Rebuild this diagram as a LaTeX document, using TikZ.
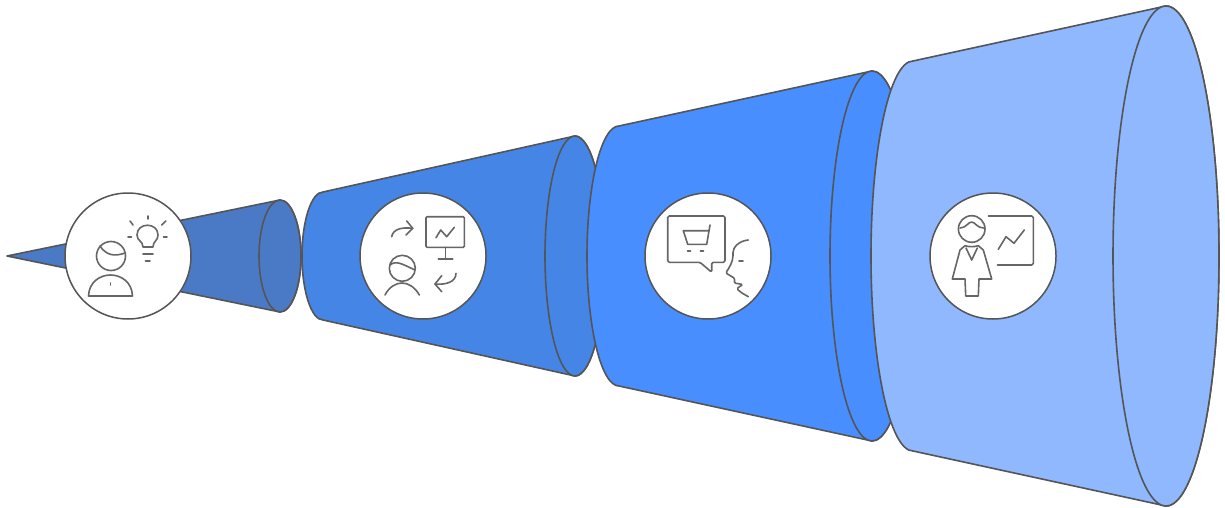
\documentclass[tikz,border=0pt]{standalone}
\definecolor{segA}{HTML}{4A7AC6}
\definecolor{segB}{HTML}{4585E6}
\definecolor{segC}{HTML}{488EFF}
\definecolor{segD}{HTML}{8FB8FF}
\definecolor{edgeC}{HTML}{555555}
\definecolor{iconC}{HTML}{666666}
\tikzset{
  seg/.style={draw=edgeC,line width=1.6pt,line join=round},
  disc/.style={circle,draw=edgeC,fill=white,line width=1.5pt,minimum size=126pt,inner sep=0pt},
  icon/.style={draw=iconC,line width=1.6pt,line cap=round,line join=round}
}
% cone: left cx, left rx, left ry, right cx, right rx, right ry, colour
\newcommand{\conepart}[7]{%
  \path[seg,fill=#7] (#1,256-#3) arc[start angle=270,end angle=90,x radius=#2,y radius=#3]
    -- (#4,256+#6) arc[start angle=90,end angle=-90,x radius=#5,y radius=#6] -- cycle;
  \path[seg,fill=#7] (#4,256) ellipse[x radius=#5,y radius=#6];
}
\begin{document}
\begin{tikzpicture}[x=1pt,y=-1pt]
\useasboundingbox (0,0) rectangle (1225,508);
% cone 1
\path[seg,fill=segA] (7,256) -- (280,200) arc[start angle=270,end angle=90,x radius=-21,y radius=56] -- cycle;
\path[seg,fill=segA] (280,256) ellipse[x radius=21,y radius=56];
\conepart{323}{21}{64}{575}{30}{120}{segB}
\conepart{619}{32}{130}{872}{42}{185}{segC}
\conepart{913}{42}{195}{1166}{53}{250}{segD}
% discs
\node[disc] (d1) at (128,256) {};
\node[disc] (d2) at (423,256) {};
\node[disc] (d3) at (708,256) {};
\node[disc] (d4) at (993,256) {};
% icon 1
\draw[icon] (111,256) circle[radius=14.5];
\draw[icon] (100,246) .. controls (106,255) and (114,257) .. (125,253);
\draw[icon] (88.5,296) .. controls (89,282) and (100,275) .. (110.5,275) .. controls (121,275) and (132,282) .. (132.5,296) -- cycle;
\draw[icon] (110.5,283) -- (110.5,285);
\draw[icon] (143,247) .. controls (143,241) and (137,241) .. (137,235) .. controls (137,222) and (158,222) .. (158,235) .. controls (158,241) and (153,241) .. (153,247) -- cycle;
\draw[icon] (143,254) -- (153,254);
\draw[icon] (145.5,261) -- (150,261);
\draw[icon] (147.7,216) -- (147.7,219);
\draw[icon] (128,236.7) -- (131.5,236.7);
\draw[icon] (163.5,236.7) -- (167,236.7);
\draw[icon] (130,221) -- (133,225);
\draw[icon] (165.7,221) -- (161.7,225);
% icon 2
\draw[icon] (391.7,236.7) .. controls (393,229) and (402,227) .. (412.7,228.3);
\draw[icon] (406.7,221) -- (412.7,228.3) -- (406,235);
\draw[icon,rounded corners=1pt] (426,216.7) rectangle (464.3,247.3);
\draw[icon] (445.3,247.3) -- (445.3,259);
\draw[icon] (438.3,259) -- (452.7,259);
\draw[icon] (436,237.7) -- (440.7,230) -- (446.7,236.7) -- (454.3,227.3);
\draw[icon] (402.3,268.3) circle[radius=13];
\draw[icon] (390,265) .. controls (396,260) and (402,264) .. (415,270);
\draw[icon] (385,295) .. controls (389,287) and (396,283) .. (402,283) .. controls (408,283) and (415,287) .. (419.3,295);
\draw[icon] (456,273.3) .. controls (456,282) and (446,285) .. (435,284);
\draw[icon] (441.7,275.7) -- (435,284) -- (441.7,291.7);
% icon 3
\draw[icon,rounded corners=1.5pt] (700,262.3) -- (711.7,272.3) -- (711.7,262.3) -- (725,262.3) -- (725,216) -- (667.7,216) -- (667.7,262.3) -- cycle;
\draw[icon] (710,225) -- (706.7,244.3) -- (687.7,244.3) -- (683.3,230.7) -- (708.5,230.7);
\draw[icon] (687.5,250.7) -- (690.5,250.7);
\draw[icon] (700.5,250.7) -- (703.5,250.7);
\draw[icon,rounded corners=1.5pt] (748.3,240) .. controls (738,241) and (733,248) .. (733,254) .. controls (733,262) and (729,268) .. (725.7,273) -- (735,278.5) -- (734,283) -- (743,284.5) -- (736.7,288.5) -- (741,292.5) -- (748.3,296.7);
\draw[icon] (739,261) -- (743,261);
% icon 4
\draw[icon] (971.7,229) circle[radius=13.3];
\draw[icon] (960,228) .. controls (966,228) and (968,222) .. (971.7,222) .. controls (975,222) and (977,228) .. (983.5,228);
\draw[icon] (965,245.7) -- (960,250) -- (952.3,279) -- (965,279) -- (965.7,296) -- (978.3,296) -- (979,279) -- (991.7,279) -- (983.3,250) -- (978.3,245.7) .. controls (974,247) and (969,247) .. (965,245.7);
\draw[icon] (966,248) -- (971.7,260) -- (977.3,248);
\draw[icon,rounded corners=1.5pt] (988.3,216) -- (1033.3,216) -- (1033.3,265) -- (997.3,265);
\draw[icon] (998.3,249.3) -- (1006,236.7) -- (1014,243.3) -- (1024.3,230);
\end{tikzpicture}
\end{document}
